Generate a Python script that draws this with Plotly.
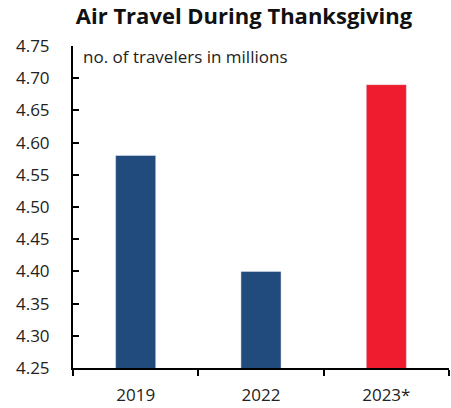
import plotly.graph_objects as go

categories = ["2019", "2022", "2023*"]
values = [4.58, 4.40, 4.69]
colors = ["#224b7d", "#224b7d", "#ee1c2e"]
tick_vals = [4.25, 4.30, 4.35, 4.40, 4.45, 4.50, 4.55, 4.60, 4.65, 4.70, 4.75]

fig = go.Figure(go.Bar(x=categories, y=values, marker_color=colors, width=0.32))

fig.update_layout(
    width=451, height=408,
    margin=dict(l=73, r=2, t=46, b=35),
    paper_bgcolor="white", plot_bgcolor="white",
    font=dict(family="Open Sans", size=17, color="#222222"),
    title=dict(text="<b>Air Travel During Thanksgiving</b>", x=0.541, xanchor="center",
               y=1 - 16/408, yanchor="middle", font=dict(size=22, color="#111111")),
    showlegend=False,
)
fig.update_yaxes(range=[4.25, 4.75], tickvals=tick_vals,
                 ticktext=[f"{v:.2f}" for v in tick_vals],
                 showline=True, linecolor="black", linewidth=2,
                 ticks="inside", ticklen=6, tickwidth=2, tickcolor="black",
                 showgrid=False, zeroline=False, ticklabelstandoff=18)
fig.update_xaxes(showline=True, linecolor="black", linewidth=2,
                 ticks="outside", ticklen=6, tickwidth=2, tickcolor="black",
                 tickson="boundaries", showgrid=False, ticklabelstandoff=11)
fig.add_annotation(text="no. of travelers in millions", xref="paper", yref="paper",
                   x=0.022, y=1.01, xanchor="left", yanchor="top", showarrow=False,
                   font=dict(size=17, color="#222222"))
fig.write_html("out.html")
